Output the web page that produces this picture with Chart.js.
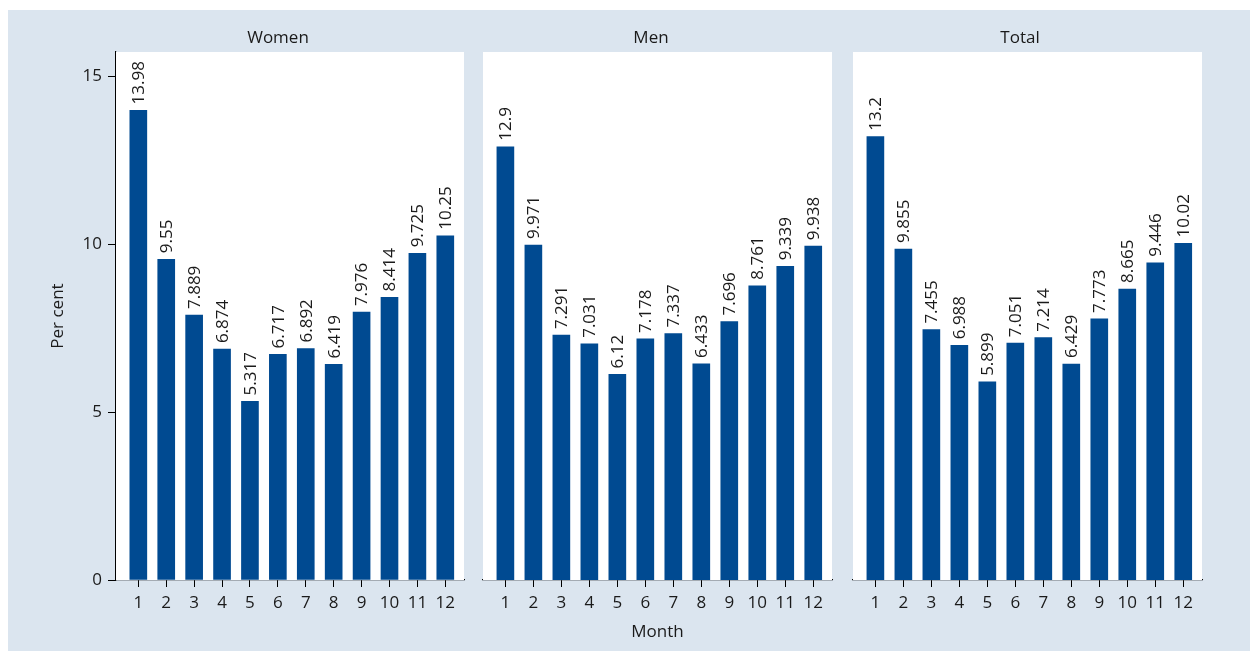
<!DOCTYPE html>
<html>
<head>
<meta charset="utf-8">
<script src="https://cdn.jsdelivr.net/npm/chart.js@4/dist/chart.umd.min.js"></script>
<style>
  body { margin: 0; background: #fff; width: 1250px; height: 651px; overflow: hidden; position: relative; }
  #bg { position: absolute; left: 8px; top: 10px; width: 1242px; height: 641px; background: #dbe5ef; }
  canvas { position: absolute; top: 10px; }
</style>
</head>
<body>
<div id="bg"></div>
<canvas id="women" width="462" height="641" style="left:8px"></canvas>
<canvas id="men" width="370" height="641" style="left:472px"></canvas>
<canvas id="total" width="407" height="641" style="left:843px"></canvas>
<script>
const months = [1, 2, 3, 4, 5, 6, 7, 8, 9, 10, 11, 12];
const yTicks = [0, 5, 10, 15];
const women = [13.98, 9.55, 7.889, 6.874, 5.317, 6.717, 6.892, 6.419, 7.976, 8.414, 9.725, 10.25];
const men = [12.9, 9.971, 7.291, 7.031, 6.12, 7.178, 7.337, 6.433, 7.696, 8.761, 9.339, 9.938];
const total = [13.2, 9.855, 7.455, 6.988, 5.899, 7.051, 7.214, 6.429, 7.773, 8.665, 9.446, 10.02];

const FONT = { family: '"Open Sans", sans-serif', size: 17 };
const TXT = '#1a1a1a';
const BAR = '#004a91';

// white panel, facet title and rotated value labels
const facet = {
  id: 'facet',
  beforeDatasetsDraw(chart, args, opts) {
    const a = chart.chartArea, ctx = chart.ctx;
    ctx.save();
    ctx.fillStyle = '#fff';
    ctx.fillRect(a.left, a.top, a.right - a.left, a.bottom - a.top);
    ctx.restore();
  },
  afterDatasetsDraw(chart, args, opts) {
    const ctx = chart.ctx;
    ctx.save();
    ctx.font = FONT.size + 'px ' + FONT.family;
    ctx.fillStyle = TXT;
    ctx.textAlign = 'center';
    ctx.textBaseline = 'middle';
    ctx.fillText(opts.title, opts.titleX, 28);
    const meta = chart.getDatasetMeta(0);
    const vals = chart.data.datasets[0].data;
    meta.data.forEach((bar, i) => {
      ctx.save();
      ctx.translate(bar.x + 1, bar.y - 6);
      ctx.rotate(-Math.PI / 2);
      ctx.textAlign = 'left';
      ctx.fillText(String(vals[i].y), 0, 0);
      ctx.restore();
    });
    ctx.restore();
  }
};

function makeChart(id, values, title, titleX, pad, first, mid) {
  return new Chart(document.getElementById(id), {
    type: 'bar',
    data: {
      datasets: [{
        data: months.map((m, i) => ({ x: m, y: values[i] })),
        backgroundColor: BAR,
        barThickness: 17
      }]
    },
    options: {
      responsive: false,
      animation: false,
      devicePixelRatio: 1,
      layout: { padding: { left: pad[0], right: pad[1], top: 42, bottom: 0 } },
      plugins: {
        legend: { display: false },
        tooltip: { enabled: false },
        facet: { title: title, titleX: titleX }
      },
      scales: {
        x: {
          type: 'linear', min: 0.2, max: 12.67, offset: false,
          afterBuildTicks: s => { s.ticks = months.map(v => ({ value: v })); },
          grid: { drawOnChartArea: false, offset: false, tickLength: 7, color: '#000' },
          border: { color: '#000', width: 1.2 },
          ticks: { font: FONT, color: TXT, padding: 6, maxRotation: 0, autoSkip: false },
          title: { display: mid, text: 'Month', font: FONT, color: TXT, padding: { top: 0, bottom: 9 } },
          afterFit: s => { s.height = 71; }
        },
        y: {
          display: first,
          min: 0, max: 15.72,
          afterBuildTicks: s => { s.ticks = yTicks.map(v => ({ value: v })); },
          grid: { drawOnChartArea: false, tickLength: 8, color: '#000' },
          border: { color: '#000', width: 1.2 },
          ticks: { font: FONT, color: TXT, padding: 6 },
          title: { display: true, text: 'Per cent', font: FONT, color: TXT, padding: { top: 40, bottom: 0 } },
          afterFit: s => { s.width = first ? 108 : 0; }
        }
      }
    },
    plugins: [facet]
  });
}

makeChart('women', women, 'Women', 270, [0, 6], true, false);
makeChart('men', men, 'Men', 179, [11, 10], false, true);
makeChart('total', total, 'Total', 177, [10, 48], false, false);
</script>
</body>
</html>
